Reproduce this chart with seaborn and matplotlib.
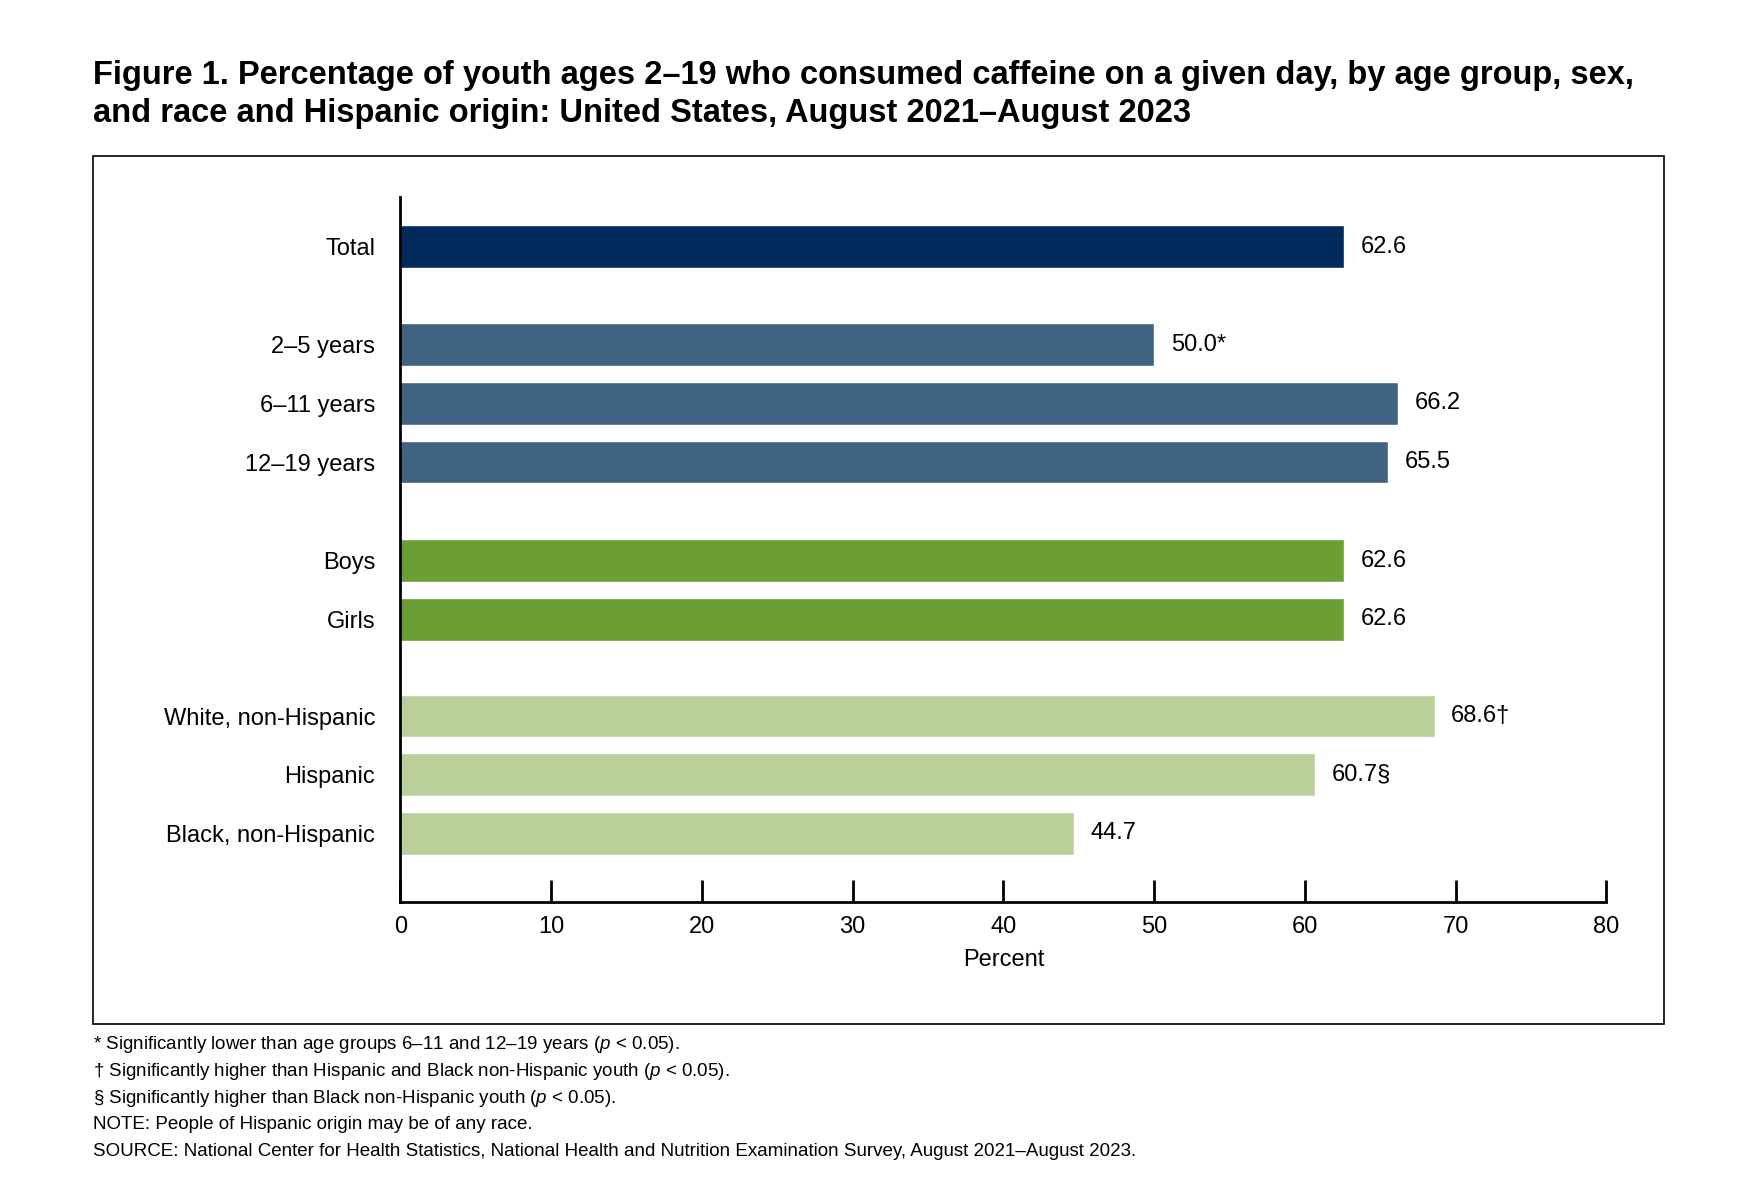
import matplotlib
matplotlib.use("Agg")
import matplotlib.pyplot as plt
import seaborn as sns
import pandas as pd
from matplotlib.patches import Rectangle

sns.set_style("white")
plt.rcParams['font.family'] = ['Liberation Sans', 'DejaVu Sans']
plt.rcParams['mathtext.fontset'] = 'custom'
plt.rcParams['mathtext.it'] = 'Liberation Sans:italic'
plt.rcParams['mathtext.rm'] = 'Liberation Sans'
plt.rcParams['text.color'] = 'black'
plt.rcParams['xtick.color'] = 'black'
plt.rcParams['ytick.color'] = 'black'
plt.rcParams['axes.labelcolor'] = 'black'

categories = ["Total", "2\u20135 years", "6\u201311 years", "12\u201319 years", "Boys", "Girls",
              "White, non-Hispanic", "Hispanic", "Black, non-Hispanic"]
values = [62.6, 50.0, 66.2, 65.5, 62.6, 62.6, 68.6, 60.7, 44.7]
labels = ["62.6", "50.0*", "66.2", "65.5", "62.6", "62.6", "68.6\u2020", "60.7\u00a7", "44.7"]
groups = ["total", "age", "age", "age", "sex", "sex", "race", "race", "race"]
positions = [0, 1.67, 2.67, 3.67, 5.35, 6.35, 8.0, 9.0, 10.0]
palette = {"total": "#002B5C", "age": "#416383", "sex": "#6B9E35", "race": "#B9D09A"}

df = pd.DataFrame({"cat": categories, "val": values, "grp": groups, "pos": positions})

fig = plt.figure(figsize=(17.48, 12.01), dpi=100)
ax = fig.add_axes([0.229, 0.249, 0.690, 0.587])
sns.barplot(data=df, x="val", y="pos", hue="grp", palette=palette, orient="h",
            native_scale=True, dodge=False, width=0.73, legend=False, ax=ax, saturation=1)

for v, p, l in zip(values, positions, labels):
    ax.text(v + 1.1, p, l, va="center", ha="left", fontsize=17)

ax.set_xlim(0, 80)
ax.set_ylim(11.17, -0.85)
ax.set_yticks(positions)
ax.set_yticklabels(categories, fontsize=17)
ax.set_xticks(range(0, 81, 10))
ax.set_xticklabels([str(t) for t in range(0, 81, 10)], fontsize=17)
ax.tick_params(axis="x", bottom=True, direction="in", length=16, width=2, pad=10)
ax.tick_params(axis="y", left=False, length=0, pad=18)
ax.set_xlabel("Percent", fontsize=17, labelpad=8)
ax.set_ylabel("")
sns.despine(ax=ax)
for s in ["left", "bottom"]:
    ax.spines[s].set_linewidth(2)
    ax.spines[s].set_color("black")

fig.patches.append(Rectangle((0.053, 0.147), 0.899, 0.723, transform=fig.transFigure,
                             fill=False, edgecolor="black", linewidth=1.2))

fig.text(0.053, 0.950, "Figure 1. Percentage of youth ages 2\u201319 who consumed caffeine on a given day, by age group, sex,\n"
         "and race and Hispanic origin: United States, August 2021\u2013August 2023",
         fontsize=23.5, fontweight="bold", va="top", ha="left", linespacing=1.3)

notes = [
    "* Significantly lower than age groups 6\u201311 and 12\u201319 years ($p$ < 0.05).",
    "\u2020 Significantly higher than Hispanic and Black non-Hispanic youth ($p$ < 0.05).",
    "\u00a7 Significantly higher than Black non-Hispanic youth ($p$ < 0.05).",
    "NOTE: People of Hispanic origin may be of any race.",
    "SOURCE: National Center for Health Statistics, National Health and Nutrition Examination Survey, August 2021\u2013August 2023.",
]
for i, n in enumerate(notes):
    fig.text(0.053, 0.13 - i * 0.0222, n, fontsize=13.5, va="center", ha="left")

fig.savefig("out.png", dpi=100)
